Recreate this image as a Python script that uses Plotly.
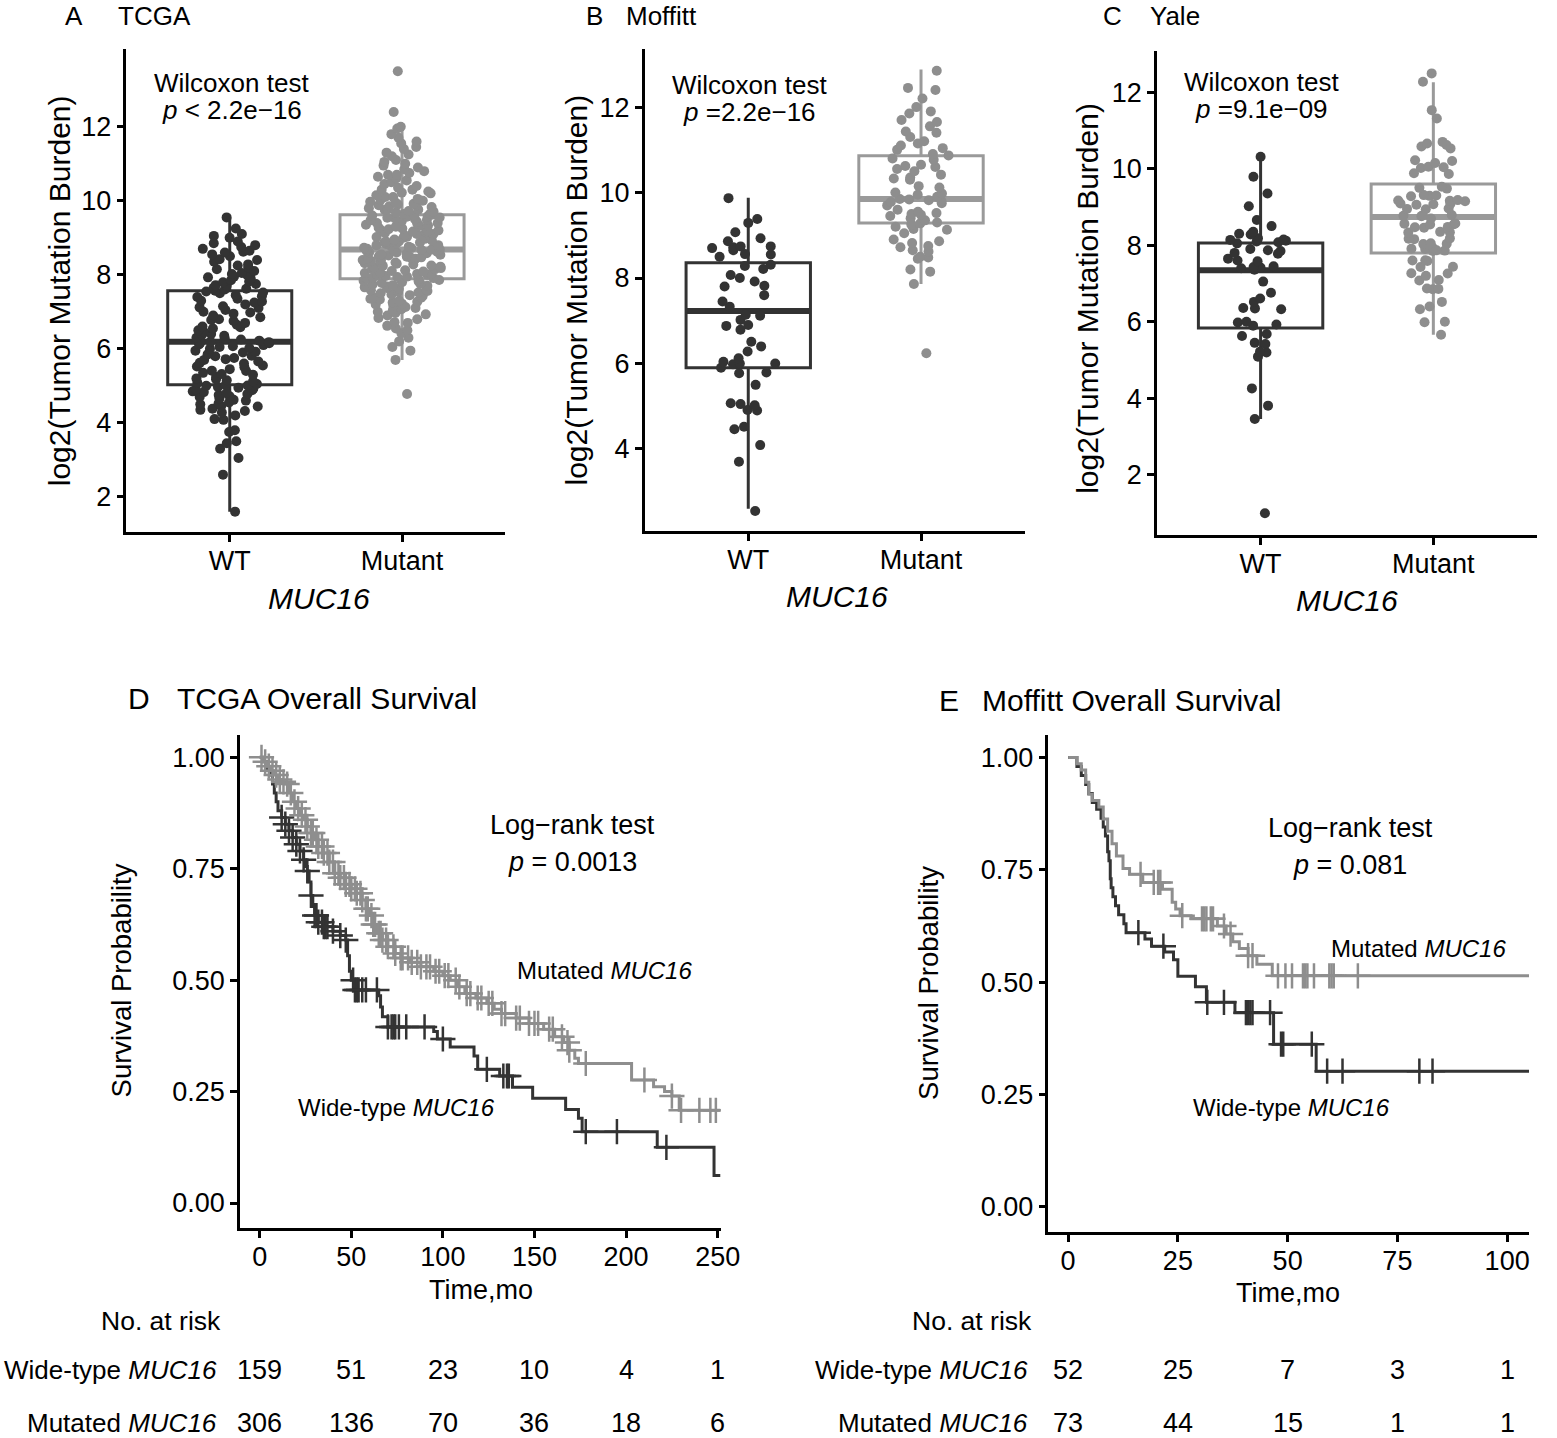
import numpy as np
import plotly.graph_objects as go

W, H = 1557, 1438
FONT = "Liberation Sans, Arial, Helvetica, sans-serif"
WT_COL = "#333333"
MUT_COL = "#8e8e8e"
MUT_BOX = "#9a9a9a"

groups = ["WT", "Mutant"]
group_pos = [1, 2]

# ---------------- Panel A: TCGA (log2 TMB) ----------------
tcga_wt = [1.6, 2.6, 3.05, 3.3, 3.45, 3.5, 3.75, 3.8, 4.08, 4.1, 4.2, 4.28, 4.32, 4.35, 4.38, 4.44,
           4.45, 4.5, 4.52, 4.55, 4.6, 4.62, 4.66, 4.7, 4.72, 4.75, 4.78, 4.8, 4.83, 4.85, 4.88, 4.9,
           4.92, 4.95, 4.97, 5.0, 5.01, 5.02, 5.05, 5.08, 5.12, 5.15, 5.18, 5.2, 5.24, 5.3, 5.32, 5.35,
           5.4, 5.41, 5.45, 5.5, 5.52, 5.55, 5.6, 5.62, 5.66, 5.7, 5.72, 5.75, 5.8, 5.81, 5.85, 5.9,
           5.92, 5.95, 6.0, 6.02, 6.05, 6.07, 6.1, 6.12, 6.15, 6.16, 6.18, 6.19, 6.22, 6.25, 6.28, 6.3,
           6.35, 6.38, 6.4, 6.45, 6.5, 6.55, 6.58, 6.6, 6.65, 6.7, 6.75, 6.78, 6.8, 6.85, 6.9, 6.95,
           6.98, 7.0, 7.05, 7.1, 7.12, 7.15, 7.2, 7.25, 7.28, 7.3, 7.35, 7.4, 7.42, 7.45, 7.5, 7.52,
           7.55, 7.57, 7.6, 7.62, 7.65, 7.7, 7.72, 7.75, 7.8, 7.82, 7.85, 7.9, 7.93, 7.95, 8.0, 8.02,
           8.05, 8.1, 8.15, 8.2, 8.25, 8.28, 8.35, 8.4, 8.42, 8.5, 8.55, 8.6, 8.62, 8.65, 8.7, 8.75,
           8.8, 8.85, 8.9, 9.0, 9.05, 9.1, 9.25, 9.55]
tcga_mut = [4.78, 5.7, 5.95, 6.05, 6.2, 6.3, 6.42, 6.5, 6.55, 6.62, 6.7, 6.72, 6.8, 6.83, 6.9, 6.93,
            6.97, 7.0, 7.04, 7.07, 7.1, 7.13, 7.16, 7.2, 7.22, 7.25, 7.27, 7.3, 7.33, 7.35, 7.38, 7.4,
            7.42, 7.45, 7.47, 7.5, 7.52, 7.54, 7.56, 7.58, 7.6, 7.62, 7.64, 7.66, 7.68, 7.7, 7.72, 7.74,
            7.76, 7.78, 7.8, 7.82, 7.84, 7.86, 7.88,
            7.9, 7.91, 7.94, 7.95, 7.97, 8.0, 8.0, 8.03, 8.05, 8.06, 8.09, 8.1, 8.12, 8.15, 8.15, 8.18,
            8.2, 8.22, 8.24, 8.25, 8.28, 8.3, 8.31, 8.34, 8.35, 8.37, 8.4, 8.4, 8.43, 8.45, 8.46, 8.49,
            8.5, 8.52, 8.54, 8.55, 8.57, 8.6, 8.6, 8.62, 8.64, 8.65, 8.67, 8.68, 8.68, 7.92, 8.02, 8.33,
            8.47, 8.58,
            8.7, 8.72, 8.73, 8.75, 8.78, 8.8, 8.8, 8.83, 8.85, 8.87, 8.9, 8.9, 8.93, 8.95, 8.97, 9.0,
            9.0, 9.03, 9.05, 9.07, 9.1, 9.1, 9.13, 9.15, 9.17, 9.2, 9.2, 9.23, 9.25, 9.27, 9.3, 9.32,
            9.35, 9.37, 9.4, 9.4, 9.43, 9.45, 9.47, 9.5, 9.52, 9.54, 9.55, 9.57, 9.58, 9.6, 9.61, 9.62,
            8.76, 8.88, 9.02, 9.18, 9.33, 9.48,
            9.64, 9.65, 9.68, 9.7, 9.72, 9.75, 9.78, 9.8, 9.83, 9.85, 9.87, 9.9, 9.92, 9.95, 9.97, 10.0,
            10.05, 10.1, 10.1, 10.15, 10.2, 10.25, 10.3, 10.3, 10.35, 10.4, 10.45, 10.5, 10.55, 10.6,
            10.65, 10.7, 10.7, 10.75, 10.8, 10.85, 10.9, 10.95, 11.0, 11.05, 11.1, 11.2, 11.25, 11.3,
            11.4, 11.45, 11.55, 11.6, 11.7, 11.8, 11.95, 12.0, 12.4, 13.5, 9.76, 9.88, 10.02, 10.22]
tcga_q1 = [5.03, 7.89]
tcga_med = [6.19, 8.68]
tcga_q3 = [7.57, 9.62]
tcga_lo = [1.6, 5.7]
tcga_hi = [9.54, 11.97]

# ---------------- Panel B: Moffitt ----------------
moff_wt = [9.87, 9.38, 9.29, 9.07, 8.93, 8.86, 8.74, 8.74, 8.72, 8.7, 8.65, 8.56, 8.55, 8.5, 8.31,
           8.28, 8.21, 8.07, 8.0, 7.92, 7.82, 7.8, 7.6, 7.45, 7.33, 7.14, 7.12, 7.02, 6.9, 6.88, 6.79,
           6.51, 6.4, 6.28, 6.12, 6.04, 6.0, 6.0, 5.98, 5.9, 5.79, 5.77, 5.5, 5.07, 5.05, 5.02, 4.91,
           4.9, 4.52, 4.46, 4.09, 3.7, 2.55]
moff_mut = [12.85, 12.45, 12.4, 12.2, 12.0, 11.9, 11.85, 11.7, 11.65, 11.55, 11.43, 11.4, 11.3, 11.2,
            11.15, 11.1, 11.04, 11.0, 10.9, 10.87, 10.8, 10.77, 10.65, 10.62, 10.6, 10.55, 10.5, 10.42,
            10.35, 10.33, 10.3, 10.15, 10.12, 10.0, 9.98, 9.95, 9.9, 9.85, 9.84, 9.82, 9.8, 9.78, 9.75,
            9.7, 9.6, 9.55, 9.52, 9.5, 9.48, 9.45, 9.4, 9.35, 9.3, 9.28, 9.25, 9.2, 9.15, 9.13, 9.05,
            8.9, 8.86, 8.82, 8.75, 8.72, 8.65, 8.62, 8.5, 8.48, 8.45, 8.2, 8.15, 7.86, 6.24]
moff_q1 = [5.9, 9.29]
moff_med = [7.23, 9.85]
moff_q3 = [8.36, 10.86]
moff_lo = [2.6, 7.86]
moff_hi = [9.88, 12.88]

# ---------------- Panel C: Yale ----------------
yale_wt = [10.31, 9.79, 9.35, 9.02, 8.66, 8.5, 8.35, 8.3, 8.28, 8.18, 8.15, 8.14, 8.12, 8.1, 8.08,
           8.05, 7.9, 7.87, 7.85, 7.8, 7.78, 7.65, 7.6, 7.58, 7.45, 7.43, 7.42, 7.4, 7.36, 7.05, 6.76,
           6.61, 6.52, 6.36, 6.35, 6.33, 6.0, 5.98, 5.93, 5.9, 5.68, 5.63, 5.45, 5.42, 5.22, 5.2, 5.09,
           4.26, 3.81, 3.46, 1.0]
yale_mut = [12.49, 12.27, 11.53, 11.31, 10.7, 10.66, 10.62, 10.58, 10.53, 10.22, 10.2, 10.15, 10.05,
            10.04, 10.02, 9.88, 9.86, 9.53, 9.5, 9.48, 9.31, 9.3, 9.29, 9.28, 9.18, 9.17, 9.16, 9.15,
            9.09, 9.08, 9.07, 9.06, 8.96, 8.95, 8.94, 8.79, 8.78, 8.77, 8.76, 8.7, 8.57, 8.56, 8.55,
            8.54, 8.48, 8.47, 8.46, 8.35, 8.34, 8.33, 8.18, 8.17, 8.16, 8.05, 8.04, 8.03, 7.92, 7.91,
            7.9, 7.87, 7.86, 7.85, 7.61, 7.6, 7.59, 7.44, 7.43, 7.27, 7.26, 7.2, 7.09, 7.08, 6.87, 6.86,
            6.85, 6.52, 6.4, 6.33, 6.0, 5.99, 5.66]
yale_q1 = [5.84, 7.8]
yale_med = [7.35, 8.74]
yale_q3 = [8.06, 9.6]
yale_lo = [3.46, 5.66]
yale_hi = [10.28, 12.26]

# ---------------- Panel D: TCGA overall survival ----------------
d_wt_t = [0, 2, 4, 6, 7, 8, 9, 10, 12, 14, 16, 18, 20, 22, 24, 25, 26, 27, 28, 29, 30, 32, 35, 40,
          44, 47, 48, 49, 50, 52, 65, 66, 67, 70, 95, 97, 104, 117, 119, 131, 138, 149, 167, 174, 176,
          217, 248]
d_wt_s = [1.0, 0.99, 0.975, 0.96, 0.94, 0.92, 0.90, 0.88, 0.865, 0.85, 0.835, 0.82, 0.805, 0.79, 0.77,
          0.755, 0.745, 0.72, 0.69, 0.665, 0.645, 0.63, 0.62, 0.61, 0.60, 0.59, 0.555, 0.52, 0.50,
          0.478, 0.465, 0.44, 0.418, 0.395, 0.385, 0.368, 0.35, 0.33, 0.30, 0.285, 0.26, 0.235, 0.21,
          0.19, 0.16, 0.125, 0.062]
d_wt_cens = [12, 14, 16, 18, 20, 22, 24, 26, 28, 30, 31, 32, 34, 35, 36, 37, 40, 44, 47, 51, 52, 53, 54,
             56, 58, 64, 70, 72, 73, 74, 76, 80, 90, 100, 124, 133, 135, 136, 178, 195, 222]
d_mut_t = [0, 2, 4, 6, 8, 10, 12, 14, 16, 18, 20, 22, 24, 26, 28, 30, 32, 35, 38, 41, 44, 47, 50, 53,
           56, 58, 60, 62, 64, 67, 70, 74, 77, 82, 88, 95, 100, 104, 108, 112, 118, 124, 128, 132, 140,
           147, 155, 161, 166, 169, 172, 174, 203, 215, 221, 225, 229]
d_mut_s = [1.0, 0.99, 0.98, 0.97, 0.96, 0.95, 0.945, 0.94, 0.92, 0.90, 0.885, 0.87, 0.86, 0.845, 0.83,
           0.815, 0.80, 0.785, 0.765, 0.74, 0.73, 0.715, 0.705, 0.695, 0.68, 0.66, 0.645, 0.625,
           0.605, 0.59, 0.575, 0.56, 0.55, 0.54, 0.53, 0.52, 0.51, 0.50, 0.485, 0.47, 0.46, 0.448,
           0.435, 0.425, 0.415, 0.403, 0.39, 0.373, 0.36, 0.343, 0.325, 0.313, 0.276, 0.261, 0.25,
           0.24, 0.208]
d_mut_cens = [1, 3, 5, 7, 9, 11, 13, 15, 17, 19, 21, 23, 25, 26, 28, 29, 31, 32, 34, 35, 37, 38, 40, 41,
              43, 44, 46, 47, 49, 50, 52, 53, 55, 56, 58, 59, 61, 62, 63, 65, 66, 67, 69, 70, 73, 74,
              77, 78, 81, 83, 86, 88, 91, 93, 96, 98, 101, 103, 107, 109, 113, 115, 119, 121, 125, 127,
              132, 134, 140, 142, 147, 150, 152, 158, 160, 165, 168, 169, 178, 210, 225, 230, 240,
              246, 249]
d_end = 251.5
d_times = [0, 50, 100, 150, 200, 250]
d_risk_wt = [159, 51, 23, 10, 4, 1]
d_risk_mut = [306, 136, 70, 36, 18, 6]

# ---------------- Panel E: Moffitt overall survival ----------------
e_wt_t = [0, 2, 3, 4, 4.7, 5.5, 6.5, 7.5, 8, 8.5, 9, 9.3, 9.6, 9.8, 10.2, 10.8, 11.5, 12.7, 13.2,
          17.5, 19, 22, 24, 25, 29, 31.5, 38, 46.8, 56.5]
e_wt_s = [1.0, 0.98, 0.96, 0.94, 0.92, 0.90, 0.885, 0.865, 0.845, 0.825, 0.79, 0.77, 0.73, 0.71, 0.69,
          0.67, 0.65, 0.63, 0.61, 0.596, 0.58, 0.567, 0.55, 0.513, 0.49, 0.455, 0.432, 0.362, 0.302]
e_wt_cens = [16, 21.7, 31.7, 35.5, 40.5, 41, 41.5, 42, 46, 48.5, 49, 55.5, 59, 62.5, 80, 83]
e_mut_t = [0, 2, 3, 4, 4.7, 5.5, 7, 8, 9, 10, 11, 12.5, 14, 17, 21.5, 23.7, 24.5, 25.5, 28, 34, 36,
           37.5, 39, 41, 43, 46.5]
e_mut_s = [1.0, 0.986, 0.972, 0.945, 0.918, 0.904, 0.89, 0.863, 0.836, 0.808, 0.781, 0.753, 0.74,
           0.722, 0.707, 0.678, 0.663, 0.648, 0.641, 0.625, 0.607, 0.59, 0.575, 0.559, 0.54, 0.514]
e_mut_cens = [16.5, 19.5, 20.5, 21, 26, 30.5, 31, 31.5, 32.5, 33, 35.5, 37, 41, 42, 47.8, 49.5, 51,
              53.5, 54, 54.5, 56, 59.5, 60, 60.5, 66]
e_end = 105
e_times = [0, 25, 50, 75, 100]
e_risk_wt = [52, 25, 7, 3, 1]
e_risk_mut = [73, 44, 15, 1, 1]

# =====================================================================
fig = go.Figure()
BOXW = 0.72


def xd(a, b):
    return [a / W, b / W]


def yd(top, bottom):
    return [1 - bottom / H, 1 - top / H]


def box_panel(n, wt_vals, mut_vals, q1, med, q3, lo, hi):
    xa = "x" if n == 1 else f"x{n}"
    ya = "y" if n == 1 else f"y{n}"
    for i, (vals, pcol, bcol) in enumerate([(wt_vals, WT_COL, WT_COL), (mut_vals, MUT_COL, MUT_BOX)]):
        pos = group_pos[i]
        fig.add_trace(go.Box(x=[pos], q1=[q1[i]], median=[med[i]], q3=[q3[i]],
                             lowerfence=[lo[i]], upperfence=[hi[i]], width=BOXW, whiskerwidth=0,
                             orientation="v", line=dict(color=bcol, width=3),
                             fillcolor="rgba(0,0,0,0)", boxpoints=False, xaxis=xa, yaxis=ya,
                             showlegend=False, hoverinfo="skip"))
        fig.add_trace(go.Box(y=vals, x0=pos, width=0.46, jitter=1, pointpos=0, boxpoints="all",
                             orientation="v", whiskerwidth=0,
                             marker=dict(color=pcol, size=10, line=dict(width=0)),
                             line=dict(width=0, color="rgba(0,0,0,0)"), fillcolor="rgba(0,0,0,0)",
                             xaxis=xa, yaxis=ya, showlegend=False))
        fig.add_shape(type="line", xref=xa, yref=ya, x0=pos - BOXW / 2, x1=pos + BOXW / 2,
                      y0=med[i], y1=med[i], line=dict(color=bcol, width=6), layer="below")


def km_panel(n, t, s, cens, color, tend):
    xa, ya = f"x{n}", f"y{n}"
    fig.add_trace(go.Scatter(x=list(t) + [tend], y=list(s) + [s[-1]], mode="lines",
                             line=dict(color=color, width=3, shape="hv"), xaxis=xa, yaxis=ya,
                             showlegend=False))
    idx = np.searchsorted(np.array(t), np.array(cens), side="right") - 1
    cy = np.array(s)[idx]
    fig.add_trace(go.Scatter(x=cens, y=cy, mode="markers",
                             marker=dict(symbol="cross-thin", size=18, color=color,
                                         line=dict(color=color, width=2.5)),
                             xaxis=xa, yaxis=ya, showlegend=False))


box_panel(1, tcga_wt, tcga_mut, tcga_q1, tcga_med, tcga_q3, tcga_lo, tcga_hi)
box_panel(2, moff_wt, moff_mut, moff_q1, moff_med, moff_q3, moff_lo, moff_hi)
box_panel(3, yale_wt, yale_mut, yale_q1, yale_med, yale_q3, yale_lo, yale_hi)

km_panel(4, d_wt_t, d_wt_s, d_wt_cens, WT_COL, d_end)
km_panel(4, d_mut_t, d_mut_s, d_mut_cens, MUT_COL, d_end)
km_panel(5, e_wt_t, e_wt_s, e_wt_cens, WT_COL, e_end)
km_panel(5, e_mut_t, e_mut_s, e_mut_cens, MUT_COL, e_end)

axis_common = dict(showline=True, linecolor="black", linewidth=2.5, ticks="outside", ticklen=7,
                   tickwidth=2.5, tickcolor="black", showgrid=False, zeroline=False,
                   tickfont=dict(family=FONT, size=27, color="black"))
x_common = dict(axis_common, ticklabelstandoff=-4)

box_x = dict(x_common, range=[0.4, 2.6], tickvals=group_pos, ticktext=groups)
fig.update_layout(
    xaxis=dict(box_x, domain=xd(128, 512), anchor="y"),
    yaxis=dict(axis_common, domain=yd(49, 532), range=[1.05, 14.1], tickvals=[2, 4, 6, 8, 10, 12],
               anchor="x"),
    xaxis2=dict(box_x, domain=xd(653, 1038), anchor="y2"),
    yaxis2=dict(axis_common, domain=yd(49, 531), range=[2.08, 13.36], tickvals=[4, 6, 8, 10, 12],
                anchor="x2"),
    xaxis3=dict(box_x, domain=xd(1172, 1557), anchor="y3"),
    yaxis3=dict(axis_common, domain=yd(51, 535), range=[0.43, 13.075],
                tickvals=[2, 4, 6, 8, 10, 12], anchor="x3"),
    xaxis4=dict(x_common, domain=xd(243, 730), range=[-10.8, 251.6], tickvals=d_times,
                anchor="y4"),
    yaxis4=dict(axis_common, domain=yd(735, 1228), range=[-0.056, 1.05],
                tickvals=[0, 0.25, 0.5, 0.75, 1.0], tickformat=".2f", anchor="x4"),
    xaxis5=dict(x_common, domain=xd(1062, 1549), range=[-4.5, 105], tickvals=e_times,
                anchor="y5"),
    yaxis5=dict(axis_common, domain=yd(735, 1232), range=[-0.056, 1.05],
                tickvals=[0, 0.25, 0.5, 0.75, 1.0], tickformat=".2f", anchor="x5"),
)

annotations = []


def ann(xp, yp, text, size, xanchor="center", angle=0):
    annotations.append(dict(x=xp / W, y=1 - yp / H, xref="paper", yref="paper", text=text,
                            showarrow=False, xanchor=xanchor, yanchor="middle", textangle=angle,
                            font=dict(family=FONT, size=size, color="black")))


# panel headers
ann(75, 16, "A", 26)
ann(118, 16, "TCGA", 26, "left")
ann(602, 16, "B", 26)
ann(632, 16, "Moffitt", 26, "left")
ann(1127, 16, "C", 26)
ann(1163, 16, "Yale", 26, "left")
ann(141, 698, "D", 30)
ann(177, 698, "TCGA Overall Survival", 30, "left")
ann(961, 700, "E", 30)
ann(993, 700, "Moffitt Overall Survival", 30, "left")

# Wilcoxon test labels
ann(235, 83, "Wilcoxon test", 26)
ann(235, 110, "<i>p</i> < 2.2e−16", 26)
ann(759, 85, "Wilcoxon test", 26)
ann(759, 112, "<i>p</i> =2.2e−16", 26)
ann(1278, 82, "Wilcoxon test", 26)
ann(1278, 109, "<i>p</i> =9.1e−09", 26)

# box-plot axis titles
for xp, yp in [(60, 291), (583, 290), (1101, 298)]:
    ann(xp, yp, "log2(Tumor Mutation Burden)", 30, angle=-90)
ann(323, 598, "<i>MUC16</i>", 30)
ann(848, 596, "<i>MUC16</i>", 30)
ann(1365, 600, "<i>MUC16</i>", 30)

# KM panel texts
ann(123, 980, "Survival Probability", 27.5, angle=-90)
ann(940, 983, "Survival Probability", 27.5, angle=-90)
ann(487, 1290, "Time,mo", 27)
ann(1305, 1293, "Time,mo", 27)
ann(580, 825, "Log−rank test", 27)
ann(580, 862, "<i>p</i> = 0.0013", 27)
ann(1368, 828, "Log−rank test", 27)
ann(1368, 865, "<i>p</i> = 0.081", 27)
ann(612, 970, "Mutated <i>MUC16</i>", 24)
ann(402, 1107, "Wide-type <i>MUC16</i>", 24)
ann(1437, 948, "Mutated <i>MUC16</i>", 24)
ann(1308, 1107, "Wide-type <i>MUC16</i>", 24)

# risk tables
ann(163, 1321, "No. at risk", 26.5)
ann(985, 1321, "No. at risk", 26.5)
ann(222, 1370, "Wide-type <i>MUC16</i>", 26, "right")
ann(222, 1423, "Mutated <i>MUC16</i>", 26, "right")
ann(1043, 1370, "Wide-type <i>MUC16</i>", 26, "right")
ann(1043, 1423, "Mutated <i>MUC16</i>", 26, "right")

for xa, times, rw, rm in [("x4", d_times, d_risk_wt, d_risk_mut), ("x5", e_times, e_risk_wt, e_risk_mut)]:
    for t, a, b in zip(times, rw, rm):
        for yp, v in [(1370, a), (1423, b)]:
            annotations.append(dict(x=t, y=1 - yp / H, xref=xa, yref="paper", text=str(v),
                                    showarrow=False, xanchor="center", yanchor="middle",
                                    font=dict(family=FONT, size=27, color="black")))

fig.update_layout(annotations=annotations, width=W, height=H,
                  margin=dict(l=0, r=0, t=0, b=0), paper_bgcolor="white", plot_bgcolor="white",
                  boxmode="overlay", font=dict(family=FONT, color="black"))

post = """
document.documentElement.style.margin='0';
document.body.style.margin='0';
document.documentElement.style.overflow='hidden';
document.body.style.overflow='hidden';
"""
fig.write_html("out.html", config={"displayModeBar": False}, post_script=post)
